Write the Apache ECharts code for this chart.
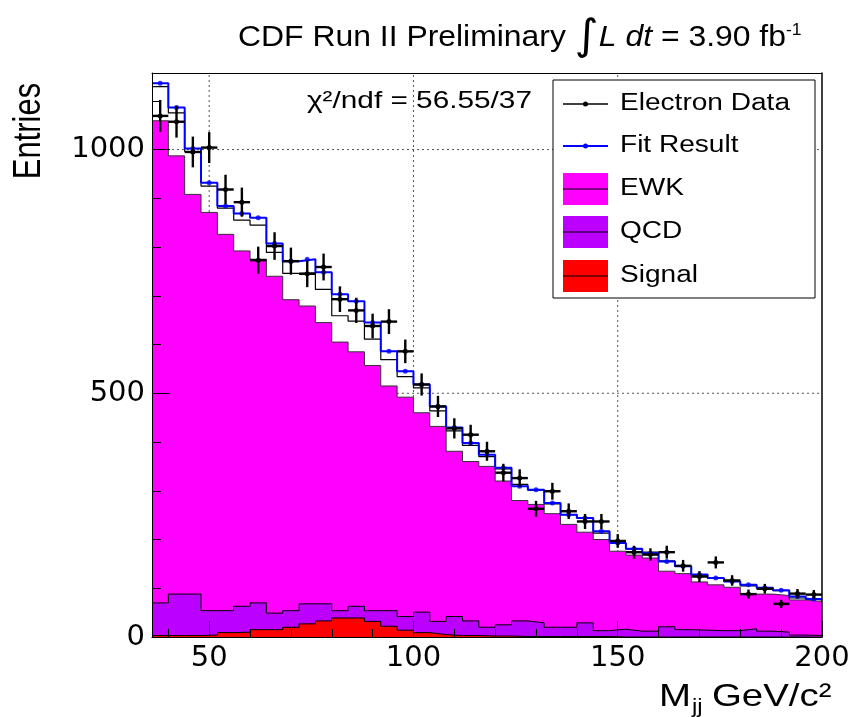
<!DOCTYPE html>
<html><head><meta charset="utf-8">
<script src="https://cdn.jsdelivr.net/npm/echarts@6/dist/echarts.min.js"></script>
<style>html,body{margin:0;padding:0;background:#fff}#c{width:856px;height:717px}</style>
</head><body><div id="c"></div>
<script>
// ---- data (4 GeV bins from 36 to 200) ----
const binEdges = [36,40,44,48,52,56,60,64,68,72,76,80,84,88,92,96,100,104,108,112,116,120,124,128,132,136,140,144,148,152,156,160,164,168,172,176,180,184,188,192,196,200];
const binCenters = [38,42,46,50,54,58,62,66,70,74,78,82,86,90,94,98,102,106,110,114,118,122,126,130,134,138,142,146,150,154,158,162,166,170,174,178,182,186,190,194,198];
const dataCounts = [1069,1057,995,1004,918,892,773,802,771,745,759,693,670,638,647,586,518,473,428,415,381,337,326,263,299,258,237,237,197,174,169,174,146,124,153,116,88,99,68,89,87];
const fitTotal = [1136,1086,1002,932,884,869,860,807,771,775,748,703,689,645,586,545,518,473,430,398,374,347,309,302,275,251,244,217,193,181,172,155,145,128,121,114,107,101,96,83,78];
const ewk = [1059,987,908,871,826,792,775,740,692,679,645,605,585,557,515,492,460,432,381,360,350,320,280,272,253,231,215,200,176,168,162,135,130,113,107,102,88,88,85,76,73];
const qcd = [70,88,88,54,54,63,70,49,54,68,68,54,63,54,54,42,51,32,42,33,20,25,33,29,20,20,29,13,16,12,12,21,15,14,13,13,17,12,10,4,3];
const signal = [3,3,3,4,9,10,15,15,20,27,33,39,39,32,22,14,9,5,3,3,2,2,1,1,1,1,1,1,0,0,0,0,0,0,0,0,0,0,0,0,0];
const xMajorTicks = [50,100,150,200];
const xMinorTicks = [40,60,70,80,90,110,120,130,140,160,170,180,190];
const yMajorTicks = [0,500,1000];
const yMinorTicks = [100,200,300,400,600,700,800,900,1100];
const xGrid = [50,100,150];
const yGrid = [500,1000];
const X_MIN = 36, X_MAX = 200, Y_MIN = 0, Y_MAX = 1157;

// ---- helpers ----
function stepData(vals){
  const out = vals.map((v,i)=>[binEdges[i], v]);
  out.push([binEdges[vals.length], vals[vals.length-1]]);
  return out;
}
const ewkPlusQcd = ewk.map((v,i)=>v+qcd[i]);

const series = [];
xGrid.forEach(v=>series.push({type:'line', data:[[v,Y_MIN],[v,Y_MAX]], symbol:'none', silent:true, z:1,
  lineStyle:{color:'#555', width:1, type:[2,3]}}));
yGrid.forEach(v=>series.push({type:'line', data:[[X_MIN,v],[X_MAX,v]], symbol:'none', silent:true, z:1,
  lineStyle:{color:'#555', width:1, type:[2,3]}}));

series.push({type:'line', step:'end', data:stepData(ewk), symbol:'none', z:2,
  lineStyle:{color:'#333', width:1}, areaStyle:{color:'#ff00ff', opacity:1}});
series.push({type:'line', step:'end', data:stepData(qcd), symbol:'none', z:3,
  lineStyle:{color:'#000', width:1}, areaStyle:{color:'#bb00ff', opacity:1}});
series.push({type:'line', step:'end', data:stepData(signal), symbol:'none', z:4,
  lineStyle:{color:'#000', width:1}, areaStyle:{color:'#ff0000', opacity:1}});
series.push({type:'line', step:'end', data:stepData(ewkPlusQcd), symbol:'none', z:5,
  lineStyle:{color:'#000', width:1.2}});
series.push({type:'line', step:'end', data:stepData(fitTotal), symbol:'none', z:6,
  lineStyle:{color:'#0000ff', width:2}});
series.push({type:'scatter', data:binCenters.map((c,i)=>[c, fitTotal[i]]), symbol:'circle', symbolSize:5, z:7,
  itemStyle:{color:'#0000ff'}});
series.push({type:'custom', z:8,
  data: binCenters.map((c,i)=>[c, dataCounts[i], binEdges[i], binEdges[i+1]]),
  encode:{x:0, y:1},
  renderItem:(params, api)=>{
    const x=api.value(0), y=api.value(1), lo=api.value(2), hi=api.value(3);
    const err=Math.sqrt(y);
    const pT=api.coord([x,y+err]), pB=api.coord([x,y-err]);
    const pL=api.coord([lo,y]), pR=api.coord([hi,y]), pC=api.coord([x,y]);
    return {type:'group', children:[
      {type:'line', shape:{x1:pL[0],y1:pL[1],x2:pR[0],y2:pR[1]}, style:{stroke:'#000', lineWidth:2.4}},
      {type:'line', shape:{x1:pT[0],y1:pT[1],x2:pB[0],y2:pB[1]}, style:{stroke:'#000', lineWidth:2.4}},
      {type:'circle', shape:{cx:pC[0],cy:pC[1],r:2.5}, style:{fill:'#000'}}
    ]};
  }});

const tickFont = {fontFamily:'DejaVu Sans', fontSize:29, color:'#000', formatter:(v)=>String(v)};
const xAxes = [
  {type:'value', min:X_MIN, max:X_MAX, position:'bottom', z:50,
   axisLine:{show:true, onZero:false, lineStyle:{color:'#000', width:1}},
   axisTick:{show:true, inside:true, length:16, customValues:xMajorTicks, lineStyle:{color:'#000', width:1}},
   axisLabel:Object.assign({show:true, margin:7, customValues:xMajorTicks}, tickFont),
   splitLine:{show:false}},
  {type:'value', min:X_MIN, max:X_MAX, position:'bottom', z:50,
   axisLine:{show:false, onZero:false},
   axisTick:{show:true, inside:true, length:8, customValues:xMinorTicks, lineStyle:{color:'#000', width:1}},
   axisLabel:{show:false}, splitLine:{show:false}},
  {type:'value', min:X_MIN, max:X_MAX, position:'top', z:50,
   axisLine:{show:true, onZero:false, lineStyle:{color:'#000', width:1}},
   axisTick:{show:false}, axisLabel:{show:false}, splitLine:{show:false}}
];
const yAxes = [
  {type:'value', min:Y_MIN, max:Y_MAX, position:'left', z:50,
   axisLine:{show:true, onZero:false, lineStyle:{color:'#000', width:1}},
   axisTick:{show:true, inside:true, length:18, customValues:yMajorTicks, lineStyle:{color:'#000', width:1}},
   axisLabel:Object.assign({show:true, margin:7, customValues:yMajorTicks}, tickFont),
   splitLine:{show:false}},
  {type:'value', min:Y_MIN, max:Y_MAX, position:'left', z:50,
   axisLine:{show:false, onZero:false},
   axisTick:{show:true, inside:true, length:9, customValues:yMinorTicks, lineStyle:{color:'#000', width:1}},
   axisLabel:{show:false}, splitLine:{show:false}},
  {type:'value', min:Y_MIN, max:Y_MAX, position:'right', z:50,
   axisLine:{show:true, onZero:false, lineStyle:{color:'#000', width:1.5}},
   axisTick:{show:false}, axisLabel:{show:false}, splitLine:{show:false}}
];

// ---- graphics: titles, legend ----
const LF = 'Liberation Sans';
function text(x, y, str, size, opts){
  return Object.assign({type:'text', x:x, y:y, z:100, style:{text:str, fontFamily:LF, fontSize:size, fill:'#000',
    textAlign:'left', textVerticalAlign:'middle'}}, opts||{});
}
const legendRows = [
  {label:'Electron Data', kind:'line', color:'#000', y:104},
  {label:'Fit Result', kind:'line', color:'#0000ff', y:146},
  {label:'EWK', kind:'box', color:'#ff00ff', y:189},
  {label:'QCD', kind:'box', color:'#bb00ff', y:232},
  {label:'Signal', kind:'box', color:'#ff0000', y:276}
];
const graphics = [];
graphics.push({type:'rect', z:90, shape:{x:553, y:80, width:262, height:218}, style:{fill:'#fff', stroke:'#000', lineWidth:1}});
legendRows.forEach(r=>{
  if(r.kind==='line'){
    graphics.push({type:'line', z:95, shape:{x1:563,y1:r.y,x2:608,y2:r.y}, style:{stroke:r.color, lineWidth:r.color==='#000'?1.3:1.8}});
    graphics.push({type:'circle', z:96, shape:{cx:585.5, cy:r.y, r:2.5}, style:{fill:r.color}});
  } else {
    graphics.push({type:'rect', z:95, shape:{x:563, y:r.y-16, width:45, height:32}, style:{fill:r.color}});
    graphics.push({type:'line', z:96, shape:{x1:563,y1:r.y,x2:608,y2:r.y}, style:{stroke:'#000', lineWidth:1}});
  }
  graphics.push(text(620, r.y, r.label, 23, {scaleX:1.22}));
});
// title
graphics.push({type:'text', x:238, y:38, z:100, scaleX:1.1, style:{
  text:'{a|CDF Run II Preliminary }{b|∫}{c|L dt}{a| = 3.90 fb}{d|-1}',
  textVerticalAlign:'middle',
  rich:{
    a:{fontFamily:LF, fontSize:29, fill:'#000', lineHeight:30},
    b:{fontFamily:'DejaVu Sans', fontSize:42, fill:'#000', lineHeight:30},
    c:{fontFamily:LF, fontSize:29, fontStyle:'italic', fill:'#000', lineHeight:30},
    d:{fontFamily:LF, fontSize:16, fill:'#000', lineHeight:30, verticalAlign:'top'}
  }}});
// chi2
graphics.push(text(307, 101, 'χ²/ndf = 56.55/37', 24, {scaleX:1.24}));
// y title
graphics.push({type:'text', x:29, y:131, z:100, rotation:Math.PI/2, scaleY:1.25, style:{text:'Entries', fontFamily:LF, fontSize:31,
  fill:'#000', textAlign:'center', textVerticalAlign:'middle'}});
// x title
graphics.push(text(659, 697, 'M', 32, {scaleX:1.2}));
graphics.push(text(692, 707, 'jj', 20, {scaleX:1.2}));
graphics.push(text(712, 697, 'GeV/c²', 32, {scaleX:1.2}));

const chart = echarts.init(document.getElementById('c'), null, {renderer:'canvas', width:856, height:717});
chart.setOption({
  animation:false,
  backgroundColor:'#fff',
  grid:{left:152, top:73, right:34, bottom:80, containLabel:false, outerBoundsMode:'none'},
  xAxis:xAxes,
  yAxis:yAxes,
  series:series,
  graphic:graphics
});
</script>
</body></html>
